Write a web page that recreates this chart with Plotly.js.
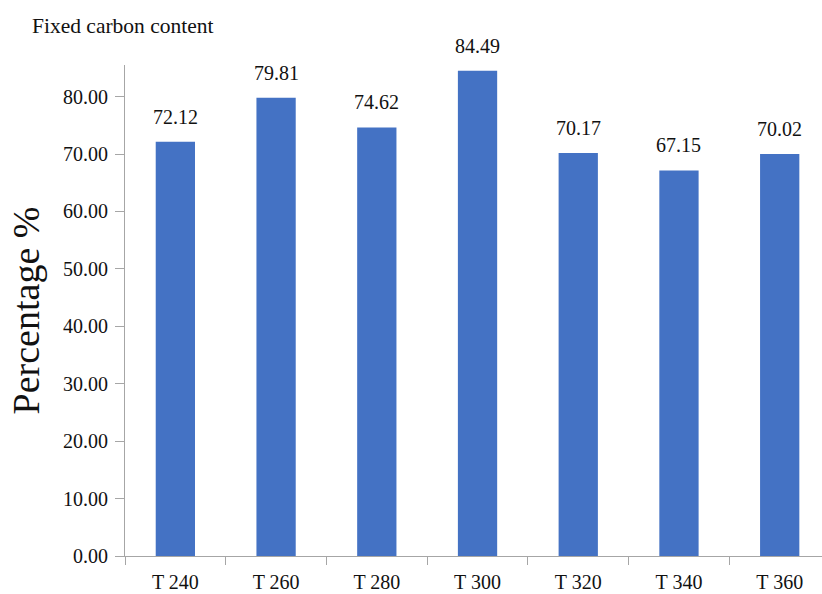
<!DOCTYPE html>
<html>
<head>
<meta charset="utf-8">
<script src="https://cdn.plot.ly/plotly-3.0.1.min.js"></script>
<style>html,body{margin:0;padding:0;background:#fff;}#chart{width:822px;height:594px;}</style>
</head>
<body>
<div id="chart"></div>
<script>
const categories = ["T 240", "T 260", "T 280", "T 300", "T 320", "T 340", "T 360"];
const fixedCarbon = [72.12, 79.81, 74.62, 84.49, 70.17, 67.15, 70.02];
const yTickValues = [0, 10, 20, 30, 40, 50, 60, 70, 80];

const serif = 'Liberation Serif, Times New Roman, serif';

const trace = {
  type: 'bar',
  x: categories,
  y: fixedCarbon,
  marker: {color: '#4472C4'},
  width: 0.39,
  hoverinfo: 'x+y'
};

const valueLabels = categories.map((c, i) => ({
  x: c,
  y: fixedCarbon[i],
  xref: 'x', yref: 'y',
  text: fixedCarbon[i].toFixed(2),
  showarrow: false,
  yanchor: 'bottom',
  yshift: 12,
  font: {family: serif, size: 20, color: '#111'}
}));

const layout = {
  width: 822,
  height: 594,
  margin: {l: 125, r: 0, t: 65, b: 38},
  paper_bgcolor: '#fff',
  plot_bgcolor: '#fff',
  showlegend: false,
  title: {
    text: 'Fixed carbon content',
    font: {family: serif, size: 21.5, color: '#111'},
    x: 32/822, xanchor: 'left', xref: 'container',
    y: 1 - 25/594, yanchor: 'middle', yref: 'container'
  },
  xaxis: {
    type: 'category',
    range: [-0.5, 6.42],
    showline: true, linecolor: '#a6a6a6', linewidth: 1,
    ticks: 'outside', tickson: 'boundaries', ticklen: 8, tickcolor: '#a6a6a6',
    tickfont: {family: serif, size: 20, color: '#111'},
    ticklabelstandoff: 8,
    showgrid: false, zeroline: false, fixedrange: true
  },
  yaxis: {
    range: [0, 85.5],
    tickvals: yTickValues,
    tickformat: '.2f',
    showline: true, linecolor: '#a6a6a6', linewidth: 1,
    ticks: 'outside', ticklen: 9, tickcolor: '#a6a6a6',
    tickfont: {family: serif, size: 20, color: '#111'},
    ticklabelstandoff: 3,
    showgrid: false, zeroline: false, fixedrange: true,
    title: {text: 'Percentage %', font: {family: serif, size: 38, color: '#111'}, standoff: 11}
  },
  annotations: valueLabels,
  bargap: 0.61
};

Plotly.newPlot('chart', [trace], layout, {displayModeBar: false, staticPlot: true});
</script>
</body>
</html>
